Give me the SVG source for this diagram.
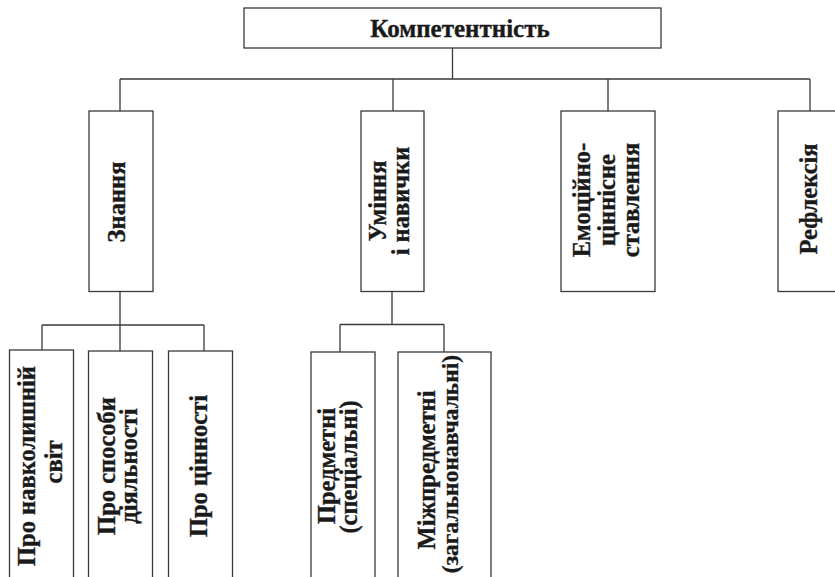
<svg xmlns="http://www.w3.org/2000/svg" width="835" height="577" viewBox="0 0 835 577">
  <style>
    .box { fill: #ffffff; stroke: #3a3a3a; stroke-width: 1.3; }
    .wire { fill: none; stroke: #3a3a3a; stroke-width: 1.3; }
    text { font-family: "Liberation Serif", "Times New Roman", serif; font-weight: bold; fill: #1a1a1a; stroke: #1a1a1a; stroke-width: 0.35; font-size: 24.5px; text-anchor: middle; }
    .title { font-size: 25px; }
    .long { font-size: 23.5px; }
  </style>
  <rect width="835" height="577" fill="#ffffff"/>

  <!-- connectors -->
  <g id="connectors" class="wire">
    <path d="M452.5 48 V79 M120 79 H810 M120 79 V111 M393 79 V111 M608 79 V111 M810 79 V111"/>
    <path d="M120 291.5 V325 M42 325 H204 M42 325 V350 M120 325 V351 M204 325 V351"/>
    <path d="M392 291.5 V324.5 M340 324.5 H444 M340 324.5 V352 M444 324.5 V352"/>
  </g>

  <!-- root -->
  <g id="node-competence">
    <rect class="box" x="244" y="8" width="417" height="40"/>
    <text class="title" x="460" y="37">Компетентність</text>
  </g>

  <!-- second level -->
  <g id="node-knowledge">
    <rect class="box" x="89" y="111" width="64" height="180.5"/>
    <text transform="translate(125 202) rotate(-90)">Знання</text>
  </g>
  <g id="node-skills">
    <rect class="box" x="361" y="111" width="63" height="180.5"/>
    <text transform="translate(386 201) rotate(-90)">Уміння</text>
    <text transform="translate(409 201) rotate(-90)">і навички</text>
  </g>
  <g id="node-attitude">
    <rect class="box" x="561" y="111" width="94" height="180.5"/>
    <text transform="translate(590 200) rotate(-90)">Емоційно-</text>
    <text transform="translate(615 200) rotate(-90)">ціннісне</text>
    <text transform="translate(639 200) rotate(-90)">ставлення</text>
  </g>
  <g id="node-reflection">
    <rect class="box" x="778" y="111" width="64" height="180.5"/>
    <text transform="translate(817 199) rotate(-90)">Рефлексія</text>
  </g>

  <!-- third level under Знання -->
  <g id="node-world">
    <rect class="box" x="9.5" y="350" width="64" height="240"/>
    <text transform="translate(35 466) rotate(-90)">Про навколишній</text>
    <text transform="translate(62 462) rotate(-90)">світ</text>
  </g>
  <g id="node-methods">
    <rect class="box" x="88.5" y="351" width="64" height="240"/>
    <text transform="translate(115 466) rotate(-90)">Про способи</text>
    <text transform="translate(137 466) rotate(-90)">діяльності</text>
  </g>
  <g id="node-values">
    <rect class="box" x="168.5" y="351" width="64" height="240"/>
    <text transform="translate(207 466) rotate(-90)">Про цінності</text>
  </g>

  <!-- third level under Уміння і навички -->
  <g id="node-subject">
    <rect class="box" x="311" y="352" width="64" height="240"/>
    <text transform="translate(335 466) rotate(-90)">Предметні</text>
    <text transform="translate(357 467) rotate(-90)">(спеціальні)</text>
  </g>
  <g id="node-cross">
    <rect class="box" x="398" y="352" width="93" height="240"/>
    <text transform="translate(435 470) rotate(-90)">Міжпредметні</text>
    <text class="long" transform="translate(458 464) rotate(-90)">(загальнонавчальні)</text>
  </g>
</svg>
